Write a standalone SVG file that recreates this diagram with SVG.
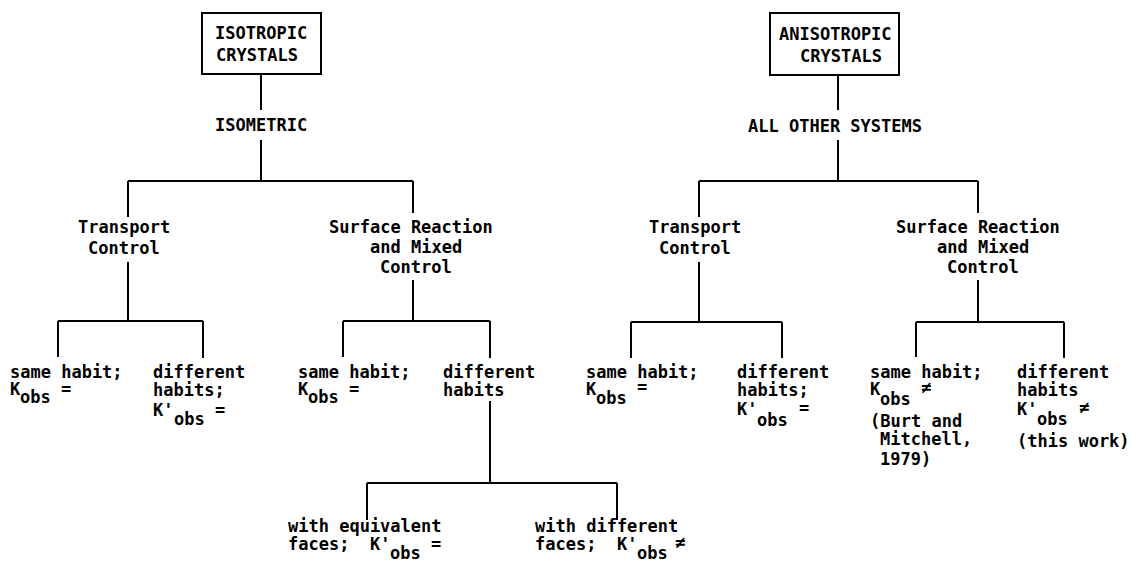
<svg xmlns="http://www.w3.org/2000/svg" width="1133" height="570" viewBox="0 0 1133 570">
<style>
.t{font-family:"DejaVu Sans Mono","Liberation Mono",monospace;font-size:17px;font-weight:bold;fill:#000}
.c{fill:none;stroke:#000;stroke-width:2}
.b{fill:#fff;stroke:#000;stroke-width:2}
</style>
<rect width="1133" height="570" fill="#fff"/>
<g id="connectors" class="c">
<path d="M261 74V110M261 140V181M128 181H413M128 181V217M413 181V213"/>
<path d="M128 262V321M58 321H203M58 321V357M203 321V358"/>
<path d="M413 280V321M343 321H490M343 321V357M490 321V358"/>
<path d="M490 401V483M367 483H617M367 483V520M617 483V520"/>
<path d="M838 75V110M838 140V181M699 181H978M699 181V217M978 181V213"/>
<path d="M699 262V322M631 322H782M631 322V358M782 322V358"/>
<path d="M978 280V322M916 322H1064M916 322V357M1064 322V358"/>
</g>
<g id="isotropic">
<rect class="b" x="202" y="13" width="119" height="61"/>
<text class="t" x="215" y="39">ISOTROPIC</text>
<text class="t" x="216" y="61">CRYSTALS</text>
</g>
<g id="isometric"><text class="t" x="215" y="131">ISOMETRIC</text></g>
<g id="l-transport"><text class="t" x="78" y="233">Transport</text><text class="t" x="88" y="254">Control</text></g>
<g id="l-surface"><text class="t" x="329" y="233">Surface Reaction</text><text class="t" x="370" y="253">and Mixed</text><text class="t" x="380" y="273">Control</text></g>
<g id="l-t-same"><text class="t" x="10" y="378">same habit;</text><text class="t" x="10" y="395">K</text><text class="t" x="20" y="403">obs</text><text class="t" x="61" y="395">=</text></g>
<g id="l-t-diff"><text class="t" x="153" y="378">different</text><text class="t" x="153" y="396">habits;</text><text class="t" x="153" y="416">K'</text><text class="t" x="174" y="425">obs</text><text class="t" x="215" y="416">=</text></g>
<g id="l-s-same"><text class="t" x="298" y="378">same habit;</text><text class="t" x="298" y="395">K</text><text class="t" x="308" y="403">obs</text><text class="t" x="349" y="395">=</text></g>
<g id="l-s-diff"><text class="t" x="443" y="378">different</text><text class="t" x="443" y="396">habits</text></g>
<g id="equiv"><text class="t" x="288" y="532">with equivalent</text><text class="t" x="288" y="550">faces;</text><text class="t" x="370" y="550">K'</text><text class="t" x="390" y="559">obs</text><text class="t" x="431" y="550">=</text></g>
<g id="difffaces"><text class="t" x="535" y="532">with different</text><text class="t" x="535" y="550">faces;</text><text class="t" x="617" y="550">K'</text><text class="t" x="637" y="559">obs</text><text class="t" x="675" y="548">≠</text></g>
<g id="anisotropic">
<rect class="b" x="770" y="13" width="129" height="62"/>
<text class="t" x="779" y="40">ANISOTROPIC</text>
<text class="t" x="800" y="62">CRYSTALS</text>
</g>
<g id="allother"><text class="t" x="748" y="132">ALL OTHER SYSTEMS</text></g>
<g id="r-transport"><text class="t" x="649" y="233">Transport</text><text class="t" x="659" y="254">Control</text></g>
<g id="r-surface"><text class="t" x="896" y="233">Surface Reaction</text><text class="t" x="937" y="253">and Mixed</text><text class="t" x="947" y="273">Control</text></g>
<g id="r-t-same"><text class="t" x="586" y="378">same habit;</text><text class="t" x="586" y="395">K</text><text class="t" x="596" y="404">obs</text><text class="t" x="637" y="393">=</text></g>
<g id="r-t-diff"><text class="t" x="737" y="378">different</text><text class="t" x="737" y="396">habits;</text><text class="t" x="737" y="415">K'</text><text class="t" x="757" y="426">obs</text><text class="t" x="799" y="414">=</text></g>
<g id="r-s-same"><text class="t" x="870" y="378">same habit;</text><text class="t" x="870" y="395">K</text><text class="t" x="880" y="405">obs</text><text class="t" x="921" y="393">≠</text><text class="t" x="870" y="427">(Burt and</text><text class="t" x="880" y="445">Mitchell,</text><text class="t" x="880" y="465">1979)</text></g>
<g id="r-s-diff"><text class="t" x="1017" y="378">different</text><text class="t" x="1017" y="396">habits</text><text class="t" x="1017" y="415">K'</text><text class="t" x="1037" y="425">obs</text><text class="t" x="1079" y="413">≠</text><text class="t" x="1017" y="447">(this work)</text></g>
</svg>
